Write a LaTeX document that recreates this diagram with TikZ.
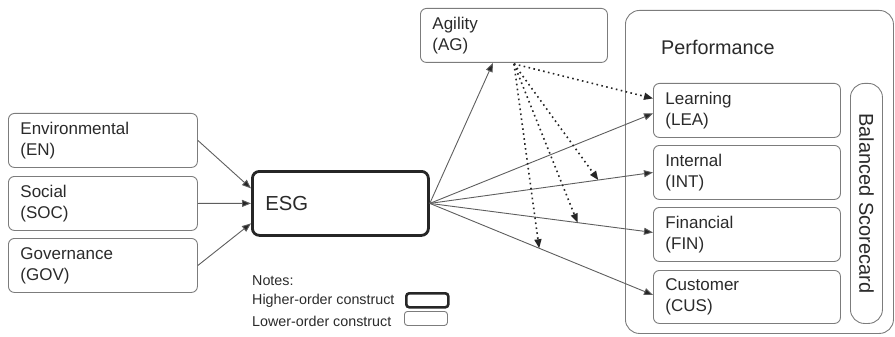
\documentclass[tikz,border=0pt]{standalone}
\usepackage{fontspec}
\setmainfont{Liberation Sans}
\usetikzlibrary{arrows.meta,calc}
\definecolor{boxgray}{HTML}{7C7C7C}
\definecolor{txt}{HTML}{2A2A2A}
\definecolor{arr}{HTML}{5E5E5E}
\begin{document}
\begin{tikzpicture}[x=1pt,y=-1pt,
  every node/.style={text=txt},
  lbox/.style={draw=boxgray, line width=0.9pt, rounded corners=6pt, anchor=north west,
    minimum width=187pt, minimum height=54pt, inner xsep=12pt, inner ysep=0pt,
    text width=163pt, align=left, font=\fontsize{17}{21}\selectfont},
  hbox/.style={draw=black!85, line width=2.8pt, rounded corners=7pt, anchor=north west,
    minimum width=176pt, minimum height=64pt, inner xsep=13pt,
    text width=150pt, align=left, font=\fontsize{20.3}{24}\selectfont},
  frame/.style={draw=boxgray, line width=0.9pt, anchor=north west},
  note/.style={anchor=west, inner sep=0pt, font=\fontsize{14.3}{17}\selectfont},
  solidarr/.style={draw=arr, line width=0.9pt, -{Triangle[length=9pt,width=7pt,fill=black!85]}},
  dotarr/.style={draw=black!85, line width=1.6pt, dash pattern=on 1.6pt off 3.4pt,
    -{Triangle[length=9pt,width=7pt,fill=black!85]}},
  legthick/.style={draw=black!85, line width=2.6pt, rounded corners=3pt, anchor=north west,
    minimum width=42pt, minimum height=14pt, inner sep=0pt},
  legthin/.style={draw=boxgray, line width=0.9pt, rounded corners=3pt, anchor=north west,
    minimum width=43pt, minimum height=14pt, inner sep=0pt}
]
\useasboundingbox (0,0) rectangle (895,337);

% left lower-order constructs
\node[lbox, minimum width=189pt, text width=165pt] (EN) at (8,113) {Environmental\\(EN)};
\node[lbox, minimum width=189pt, text width=165pt] (SOC) at (8,176) {Social\\(SOC)};
\node[lbox, minimum width=189pt, text width=165pt] (GOV) at (8,238) {Governance\\(GOV)};

% ESG
\node[hbox] (ESG) at (251,170) {ESG};

% Agility
\node[lbox] (AG) at (420,8) {Agility\\(AG)};

% Performance frame
\node[frame, rounded corners=14pt, minimum width=268pt, minimum height=323pt] (PERF) at (625,10) {};
\node[anchor=west, inner sep=0pt, font=\fontsize{19.8}{24}\selectfont] (PL) at (661,47) {Performance};

\node[lbox] (LEA) at (653,83) {Learning\\(LEA)};
\node[lbox] (INT) at (653,145) {Internal\\(INT)};
\node[lbox] (FIN) at (653,207) {Financial\\(FIN)};
\node[lbox, minimum height=53pt] (CUS) at (653,270) {Customer\\(CUS)};

\node[frame, rounded corners=14pt, minimum width=32pt, minimum height=240pt] (BSC) at (850,83) {};
\node[rotate=-90, inner sep=0pt, font=\fontsize{20}{24}\selectfont] (BSCL) at (BSC.center) {Balanced Scorecard};

% notes
\node[note] (N1) at (252,281) {Notes:};
\node[note] (N2) at (252,301) {Higher-order construct};
\node[note] (N3) at (252,321) {Lower-order construct};
\node[legthick] (L1) at (405,292) {};
\node[legthin] (L2) at (404,311) {};

% inputs to ESG
\draw[solidarr] (EN.east) -- ($(ESG.west)+(0,-15)$);
\draw[solidarr] (SOC.east) -- (ESG.west);
\draw[solidarr] (GOV.east) -- ($(ESG.west)+(0,20)$);

% ESG outputs
\coordinate (E) at (ESG.east);
\draw[solidarr] (E) -- ($(AG.south)+(-21,0)$);
\draw[solidarr] (E) -- ($(LEA.west)+(0,3)$);
\draw[solidarr] (E) -- (INT.west) coordinate[pos=0.755] (m1);
\draw[solidarr] (E) -- ($(FIN.west)+(0,-2)$) coordinate[pos=0.662] (m2);
\draw[solidarr] (E) -- ($(CUS.west)+(0,-2)$) coordinate[pos=0.49] (m3);

% moderation by agility
\coordinate (A) at ($(AG.south)+(0,1)$);
\draw[dotarr] (A) -- ($(LEA.west)+(0,-12)$);
\draw[dotarr] (A) -- (m1);
\draw[dotarr] (A) -- (m2);
\draw[dotarr] (A) -- (m3);
\end{tikzpicture}
\end{document}
